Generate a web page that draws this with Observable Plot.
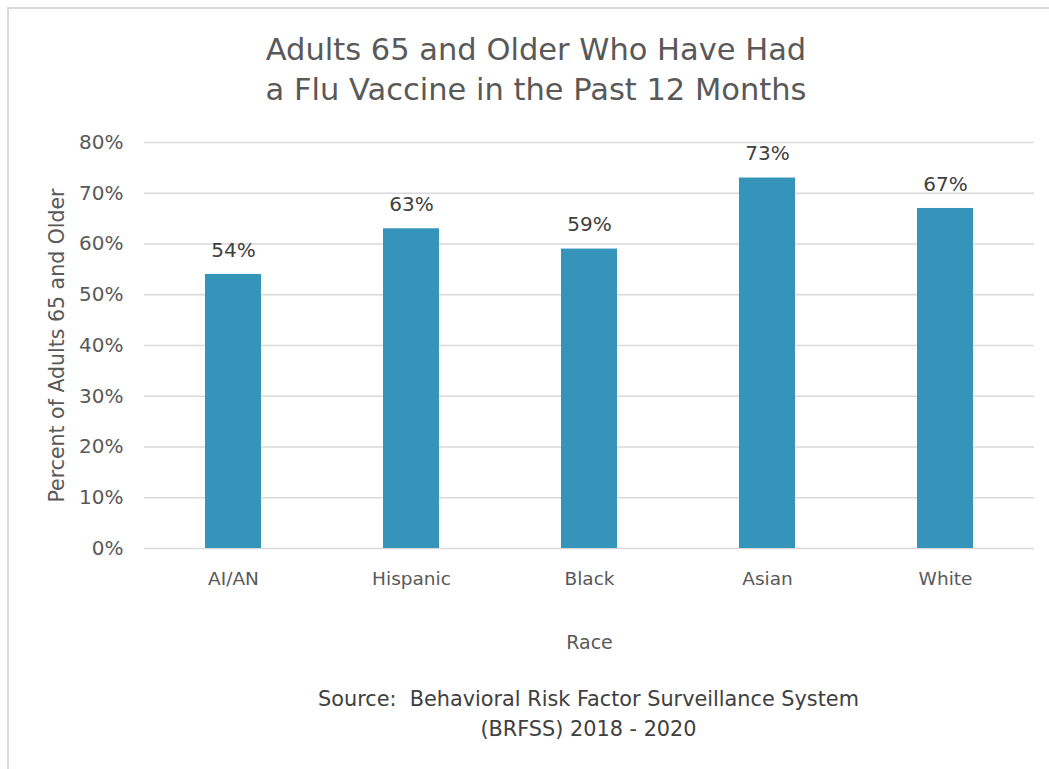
<!DOCTYPE html>
<html>
<head>
<meta charset="utf-8">
<script src="https://cdn.jsdelivr.net/npm/d3@7"></script>
<script src="https://cdn.jsdelivr.net/npm/@observablehq/plot@0.6"></script>
<style>
  html, body { margin: 0; padding: 0; background: #fff; }
  body { width: 1049px; height: 769px; position: relative; overflow: hidden; font-family: "DejaVu Sans", sans-serif; }
  #frame { position: absolute; left: 7px; top: 7px; width: 1050px; height: 770px; border: 2px solid #d9d9d9; box-sizing: border-box; }
  #title { position: absolute; left: 0; width: 1072px; top: 30px; text-align: center; font-size: 30.5px; line-height: 40px; color: #595959; }
  #chart { position: absolute; left: 0; top: 120px; }
  #caption { position: absolute; left: 0; width: 1177px; top: 684px; text-align: center; font-size: 20.8px; line-height: 30px; color: #404040; }
</style>
</head>
<body>
<div id="frame"></div>
<div id="title">Adults 65 and Older Who Have Had<br>a Flu Vaccine in the Past 12 Months</div>
<div id="chart"></div>
<div id="caption">Source:&nbsp; Behavioral Risk Factor Surveillance System<br>(BRFSS) 2018 - 2020</div>
<script>
const categories = ["AI/AN", "Hispanic", "Black", "Asian", "White"];
const values = [54, 63, 59, 73, 67];
const yTicks = [0, 10, 20, 30, 40, 50, 60, 70, 80];
const xTitle = "Race";
const yTitle = "Percent of Adults 65 and Older";

const data = categories.map((c, i) => ({ race: c, pct: values[i] }));

const chart = Plot.plot({
  width: 1049,
  height: 545,
  marginLeft: 144,
  marginRight: 15,
  marginTop: 22,
  marginBottom: 117,
  style: { fontFamily: "DejaVu Sans, sans-serif", background: "transparent", overflow: "visible" },
  x: { domain: categories, paddingInner: 0.685, paddingOuter: 0.3425, label: null },
  y: { domain: [0, 80], label: null },
  marks: [
    Plot.ruleY(yTicks, { y: d => d, stroke: "#d9d9d9", strokeWidth: 1.5 }),
    Plot.barY(data, { x: "race", y: "pct", fill: "#3494ba" }),
    Plot.text(data, { x: "race", y: "pct", text: d => d.pct + "%", dy: -24, fontSize: 20, fill: "#404040" }),
    Plot.axisX({ tickSize: 0, tickPadding: 23, fontSize: 18.5, color: "#595959", label: null }),
    Plot.axisY(yTicks, { tickSize: 0, tickPadding: 21, fontSize: 20, color: "#595959", tickFormat: d => d + "%", label: null }),
    Plot.text([xTitle], { frameAnchor: "bottom", dy: 100, fontSize: 19, fill: "#595959", text: d => d }),
    Plot.text([yTitle], { frameAnchor: "left", dx: -87, rotate: -90, textAnchor: "middle", fontSize: 20.5, fill: "#595959", text: d => d })
  ]
});
document.getElementById("chart").appendChild(chart);
</script>
</body>
</html>
